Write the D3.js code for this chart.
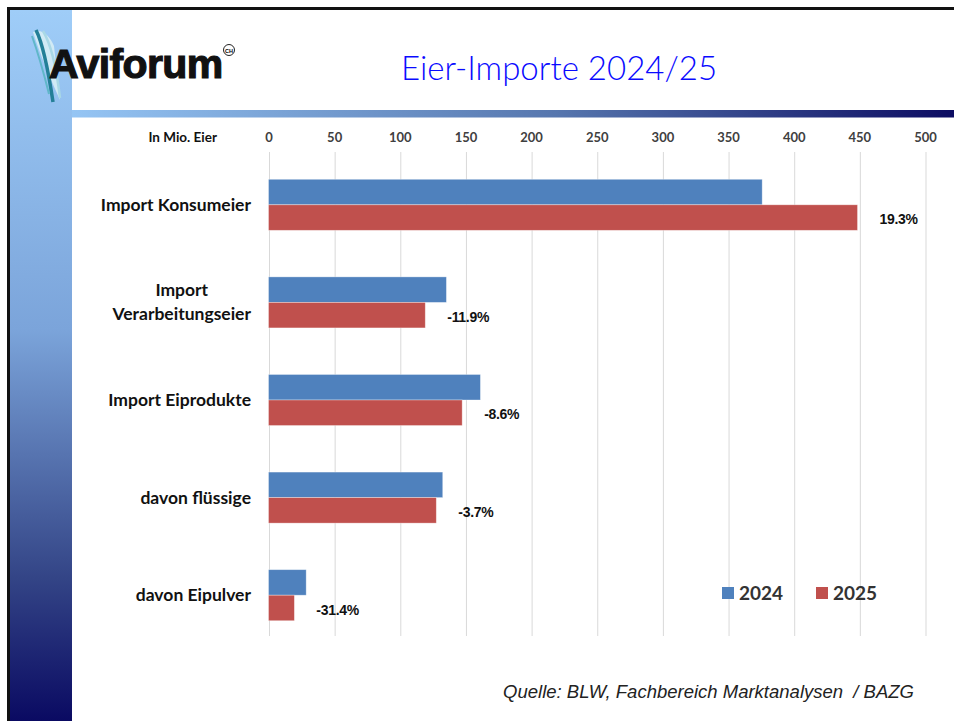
<!DOCTYPE html>
<html>
<head>
<meta charset="utf-8">
<script src="https://cdn.jsdelivr.net/npm/d3@7"></script>
<style>
  body { margin: 0; background: #fff; }
  svg { display: block; }
</style>
</head>
<body>
<script>
// Eier-Importe, Mio. Eier
const categories = ["Import Konsumeier", "Import\nVerarbeitungseier", "Import Eiprodukte", "davon flüssige", "davon Eipulver"]
const series = ["2024", "2025"]
const values2024 = [376, 135.5, 161.4, 132.7, 28.7]
const values2025 = [448.6, 119.4, 147.5, 127.8, 19.7]
const changeLabels = ["19.3%", "-11.9%", "-8.6%", "-3.7%", "-31.4%"]
const xTicks = [0, 50, 100, 150, 200, 250, 300, 350, 400, 450, 500]

const colors = { "2024": "#4f81bd", "2025": "#c0504d" }

let width = 954
let height = 721

let svg = d3.select("body").append("svg")
    .attr("width", width)
    .attr("height", height)

let defs = svg.append("defs")

let sideGrad = defs.append("linearGradient")
    .attr("id", "side").attr("x1", 0).attr("y1", 0).attr("x2", 0).attr("y2", 1)
sideGrad.append("stop").attr("offset", "0%").attr("stop-color", "#9fcdf8")
sideGrad.append("stop").attr("offset", "45%").attr("stop-color", "#7ba4da")
sideGrad.append("stop").attr("offset", "80%").attr("stop-color", "#334486")
sideGrad.append("stop").attr("offset", "100%").attr("stop-color", "#0a0a62")

let barGrad = defs.append("linearGradient")
    .attr("id", "hbar").attr("x1", 0).attr("y1", 0).attr("x2", 1).attr("y2", 0)
barGrad.append("stop").attr("offset", "0%").attr("stop-color", "#95c5f4")
barGrad.append("stop").attr("offset", "55%").attr("stop-color", "#5676ae")
barGrad.append("stop").attr("offset", "100%").attr("stop-color", "#0c0c62")

// frame
svg.append("rect").attr("x", 10).attr("y", 10).attr("width", 62).attr("height", height - 10)
    .attr("fill", "url(#side)")
svg.append("rect").attr("x", 72).attr("y", 110).attr("width", width - 72).attr("height", 7.5)
    .attr("fill", "url(#hbar)")
svg.append("path")
    .attr("d", "M8.5," + height + "V8.5H" + width)
    .attr("fill", "none").attr("stroke", "#111").attr("stroke-width", 3)

// logo
let logo = svg.append("g")
logo.append("path")
    .attr("d", "M33,32 C42,28 50,36 54,46 L60,100 C52,82 42,60 33,32 Z")
    .attr("fill", "#d4ecf4").attr("opacity", 0.95)
logo.append("path")
    .attr("d", "M36,30 C42,42 47,62 53,102")
    .attr("fill", "none").attr("stroke", "#237f97").attr("stroke-width", 3.5)
logo.append("path")
    .attr("d", "M32,36 C37,50 43,70 49,94")
    .attr("fill", "none").attr("stroke", "#5fb7c9").attr("stroke-width", 2)
logo.append("path")
    .attr("d", "M43,31 C51,44 56,64 60,98")
    .attr("fill", "none").attr("stroke", "#a9d8e6").attr("stroke-width", 2.5)
logo.append("text")
    .attr("x", 49).attr("y", 78)
    .style("font-family", "'Liberation Sans', Arial, sans-serif")
    .style("font-weight", "bold")
    .style("font-size", "41px")
    .style("letter-spacing", "-0.6px")
    .attr("fill", "#111")
    .attr("stroke", "#111")
    .attr("stroke-width", 1.2)
    .text("Aviforum")
logo.append("circle").attr("cx", 229).attr("cy", 50).attr("r", 5.5)
    .attr("fill", "none").attr("stroke", "#222").attr("stroke-width", 1)
logo.append("text").attr("x", 229).attr("y", 52.5).attr("text-anchor", "middle")
    .style("font-family", "'Liberation Sans', Arial, sans-serif")
    .style("font-size", "5.5px").style("font-weight", "bold")
    .text("CH")

// title
svg.append("text")
    .attr("x", 559).attr("y", 80)
    .attr("text-anchor", "middle")
    .style("font-family", "Lato, 'DejaVu Sans', sans-serif")
    .style("font-weight", 300)
    .style("font-size", "33px")
    .attr("fill", "#0a0aff")
    .text("Eier-Importe 2024/25")

// scales
const xScale = d3.scaleLinear()
    .domain([0, 500])
    .range([268.5, 925])

const yScale = d3.scaleBand()
    .domain(d3.range(categories.length))
    .range([156, 644])
    .paddingInner(0.477)
    .paddingOuter(0.2385)

const sScale = d3.scaleBand()
    .domain(series)
    .range([0, yScale.bandwidth()])

const gridTop = 152
const gridBottom = 636

let xAxis = d3.axisTop(xScale)
    .tickValues(xTicks)
    .tickSize(-(gridBottom - gridTop))
    .tickPadding(10)
    .tickFormat(d3.format("d"))

let ax = svg.append("g")
    .attr("transform", "translate(0," + gridTop + ")")
    .call(xAxis)
ax.select(".domain").remove()
ax.selectAll(".tick line")
    .attr("stroke", "#d9d9d9")
    .attr("transform", "translate(0.5,0)")
ax.selectAll(".tick text")
    .style("font-family", "Lato, 'Open Sans', sans-serif")
    .style("font-weight", "bold")
    .style("font-size", "13px")
    .attr("fill", "#404040")

svg.append("text")
    .attr("x", 217).attr("y", 142)
    .attr("text-anchor", "end")
    .style("font-family", "Lato, 'Open Sans', sans-serif")
    .style("font-weight", "bold")
    .style("font-size", "13.5px")
    .attr("fill", "#111")
    .text("In Mio. Eier")

// bars
let rows = categories.map((c, i) => ({ i: i, c: c, v: { "2024": values2024[i], "2025": values2025[i] } }))

let groups = svg.selectAll("g.row")
    .data(rows)
    .enter()
    .append("g")
    .attr("class", "row")
    .attr("transform", d => "translate(0," + yScale(d.i) + ")")

groups.selectAll("rect")
    .data(d => series.map(s => ({ s: s, v: d.v[s] })))
    .enter()
    .append("rect")
    .attr("x", xScale(0))
    .attr("y", d => sScale(d.s))
    .attr("width", d => xScale(d.v) - xScale(0))
    .attr("height", sScale.bandwidth())
    .attr("fill", d => colors[d.s])
    .attr("stroke", "#ffffff")
    .attr("stroke-opacity", 0.45)
    .attr("stroke-width", 0.75)

// category labels
const labelFont = g => g
    .style("font-family", "Lato, 'Open Sans', sans-serif")
    .style("font-weight", "bold")
    .style("font-size", "17.5px")
    .attr("fill", "#111")

groups.each(function (d) {
    let g = d3.select(this)
    let lines = d.c.split("\n")
    let cy = yScale.bandwidth() / 2
    let lh = 24
    let texts = lines.map((l, k) => g.append("text")
        .call(labelFont)
        .attr("text-anchor", "middle")
        .attr("y", cy + 6 + (k - (lines.length - 1) / 2) * lh)
        .text(l))
    let w = d3.max(texts, n => n.node().getComputedTextLength())
    texts.forEach(n => n.attr("x", 251 - w / 2))
})

// change labels
groups.append("text")
    .attr("x", d => xScale(d.v["2025"]) + 22)
    .attr("y", sScale("2025") + sScale.bandwidth() / 2 + 3)
    .attr("dominant-baseline", "middle")
    .style("font-family", "'Liberation Sans', Arial, sans-serif")
    .style("font-weight", "bold")
    .style("font-size", "14px")
    .style("letter-spacing", "-0.3px")
    .attr("fill", "#111")
    .text((d, i) => changeLabels[i])

// legend
let legend = svg.append("g").attr("transform", "translate(722,587)")
let lx = [0, 94]
series.forEach((s, i) => {
    legend.append("rect")
        .attr("x", lx[i]).attr("y", 0)
        .attr("width", 12).attr("height", 12)
        .attr("fill", colors[s])
    legend.append("text")
        .attr("x", lx[i] + 17).attr("y", 13)
        .style("font-family", "Lato, 'Open Sans', sans-serif")
        .style("font-weight", "bold")
        .style("font-size", "19px")
        .attr("fill", "#333")
        .text(s)
})

// source
svg.append("text")
    .attr("x", 914).attr("y", 698)
    .attr("text-anchor", "end")
    .style("font-family", "'Liberation Sans', Arial, sans-serif")
    .style("font-style", "italic")
    .style("font-size", "18.5px")
    .style("white-space", "pre")
    .attr("fill", "#222")
    .text("Quelle: BLW, Fachbereich Marktanalysen  / BAZG")
</script>
</body>
</html>
